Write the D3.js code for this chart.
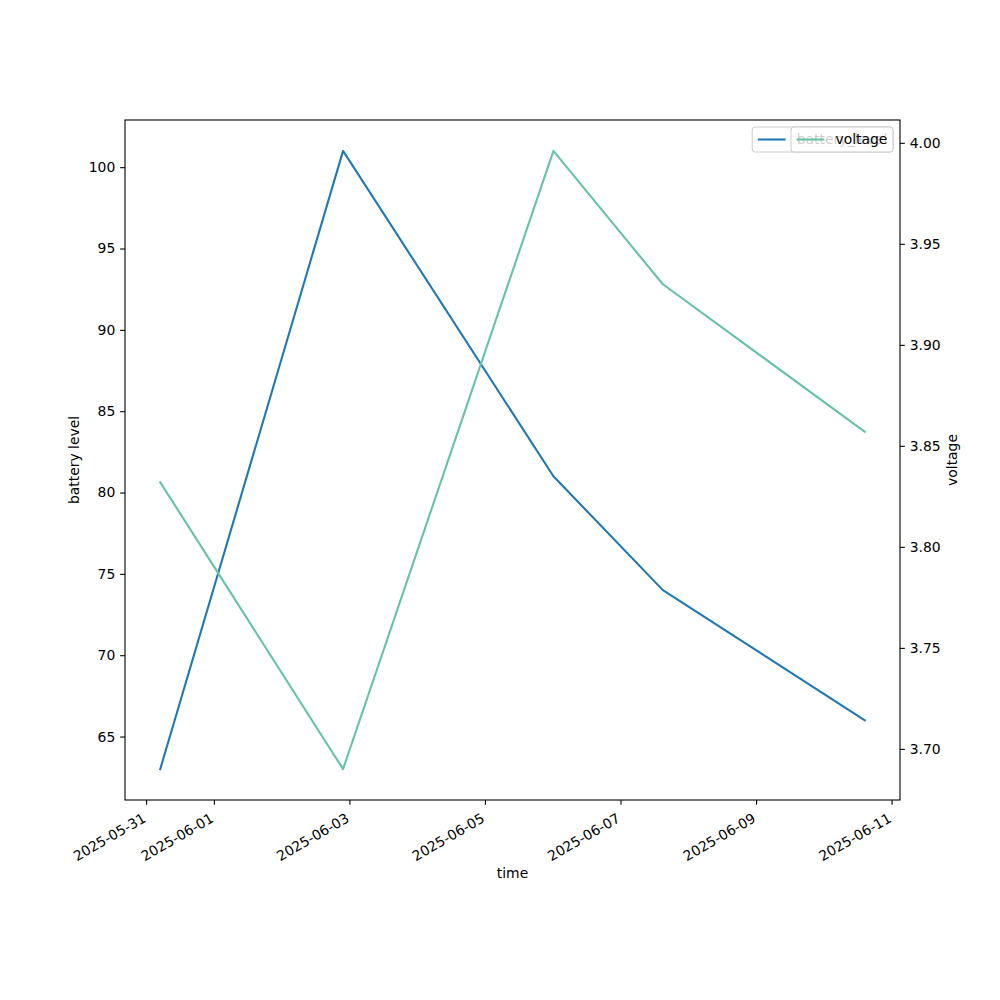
<!DOCTYPE html>
<html>
<head>
<meta charset="utf-8">
<script src="https://cdn.jsdelivr.net/npm/d3@7"></script>
<style>
  body { margin: 0; background: #fff; }
  svg { display: block; font-family: "DejaVu Sans", sans-serif; }
</style>
</head>
<body>
<svg id="chart" width="1000" height="1000"></svg>
<script>
const times = ["2025-05-31T05:00", "2025-06-02T21:45", "2025-06-06T00:15", "2025-06-07T15:00", "2025-06-10T14:30"];
const batteryLevel = [63, 101, 81, 74, 66];
const voltage = [3.832, 3.69, 3.996, 3.93, 3.857];
const xTickDates = ["2025-05-31", "2025-06-01", "2025-06-03", "2025-06-05", "2025-06-07", "2025-06-09", "2025-06-11"];
const leftTicks = [65, 70, 75, 80, 85, 90, 95, 100];
const rightTicks = [3.70, 3.75, 3.80, 3.85, 3.90, 3.95, 4.00];
const seriesNames = ["battery_level", "voltage"];

const parse = d3.timeParse("%Y-%m-%dT%H:%M");
const parseDay = d3.timeParse("%Y-%m-%d");
const fmtDay = d3.timeFormat("%Y-%m-%d");
const T = times.map(parse);

const L = 125, R = 900, TOP = 120, B = 800;
const svg = d3.select("#chart");
const FONT = "DejaVu Sans, sans-serif";

function padDomain(ext) {
  const r = ext[1] - ext[0];
  return [ext[0] - 0.05 * r, ext[1] + 0.05 * r];
}
const tExt = d3.extent(T);
const tr = tExt[1] - tExt[0];
const x = d3.scaleTime().domain([new Date(+tExt[0] - 0.05 * tr), new Date(+tExt[1] + 0.05 * tr)]).range([L, R]);
const y1 = d3.scaleLinear().domain(padDomain(d3.extent(batteryLevel))).range([B, TOP]);
const y2 = d3.scaleLinear().domain(padDomain(d3.extent(voltage))).range([B, TOP]);

const blue = "#1f77b4", green = "#66c2a5";
const fs = 13.9;

// lines
const line1 = d3.line().x((d, i) => x(T[i])).y(d => y1(d));
const line2 = d3.line().x((d, i) => x(T[i])).y(d => y2(d));
svg.append("path").attr("d", line1(batteryLevel)).attr("fill", "none").attr("stroke", blue).attr("stroke-width", 2.08).attr("stroke-linejoin", "round").attr("stroke-linecap", "square");
svg.append("path").attr("d", line2(voltage)).attr("fill", "none").attr("stroke", green).attr("stroke-width", 2.08).attr("stroke-linejoin", "round").attr("stroke-linecap", "square");

// axes
const xAxis = d3.axisBottom(x).tickValues(xTickDates.map(parseDay)).tickFormat(fmtDay).tickSize(4.86).tickPadding(3.5);
const gx = svg.append("g").attr("transform", `translate(0,${B})`).call(xAxis);
gx.selectAll("text")
  .attr("text-anchor", "end")
  .attr("transform", "translate(-5,12) rotate(-30)")
  .attr("y", 0).attr("dy", "0.75em").attr("x", 0);

const gl = svg.append("g").attr("transform", `translate(${L},0)`).call(d3.axisLeft(y1).tickValues(leftTicks).tickFormat(d3.format("d")).tickSize(4.86).tickPadding(4.86));
const gr = svg.append("g").attr("transform", `translate(${R},0)`).call(d3.axisRight(y2).tickValues(rightTicks).tickFormat(d3.format(".2f")).tickSize(4.86).tickPadding(4.86));

[gx, gl, gr].forEach(g => {
  g.attr("font-family", FONT).attr("font-size", fs);
  g.selectAll("text").attr("fill", "#000").attr("font-family", FONT).attr("font-size", fs);
  g.select(".domain").remove();
  g.selectAll(".tick line").attr("stroke", "#000").attr("stroke-width", 1.1);
});

// frame
svg.append("rect").attr("x", L).attr("y", TOP).attr("width", R - L).attr("height", B - TOP)
  .attr("fill", "none").attr("stroke", "#000").attr("stroke-width", 1.1);

// labels
svg.append("text").attr("x", (L + R) / 2).attr("y", 878).attr("text-anchor", "middle").attr("font-size", fs).text("time");
svg.append("text").attr("transform", `translate(79,${(TOP + B) / 2}) rotate(-90)`).attr("text-anchor", "middle").attr("font-size", fs).text("battery level");
svg.append("text").attr("transform", `translate(957,${(TOP + B) / 2}) rotate(-90)`).attr("text-anchor", "middle").attr("font-size", fs).text("voltage");

// legends (two overlapping, both upper right)
function legend(name, color) {
  const g = svg.append("g");
  const t = g.append("text").attr("font-size", fs).text(name);
  const tw = t.node().getComputedTextLength();
  const pad = 5.6, hl = 27.8, htp = 11.1;
  const w = pad + hl + htp + tw + pad;
  const h = 25;
  const rx = R - 7 - w, ry = TOP + 7;
  g.insert("rect", "text").attr("x", rx).attr("y", ry).attr("width", w).attr("height", h).attr("rx", 3)
    .attr("fill", "#fff").attr("fill-opacity", 0.8).attr("stroke", "#cccccc").attr("stroke-width", 1);
  g.append("line").attr("x1", rx + pad).attr("x2", rx + pad + hl).attr("y1", ry + h / 2).attr("y2", ry + h / 2)
    .attr("stroke", color).attr("stroke-width", 2.08);
  t.attr("x", rx + pad + hl + htp).attr("y", ry + h / 2).attr("dy", "0.35em");
}
legend(seriesNames[0], blue);
legend(seriesNames[1], green);
</script>
</body>
</html>
